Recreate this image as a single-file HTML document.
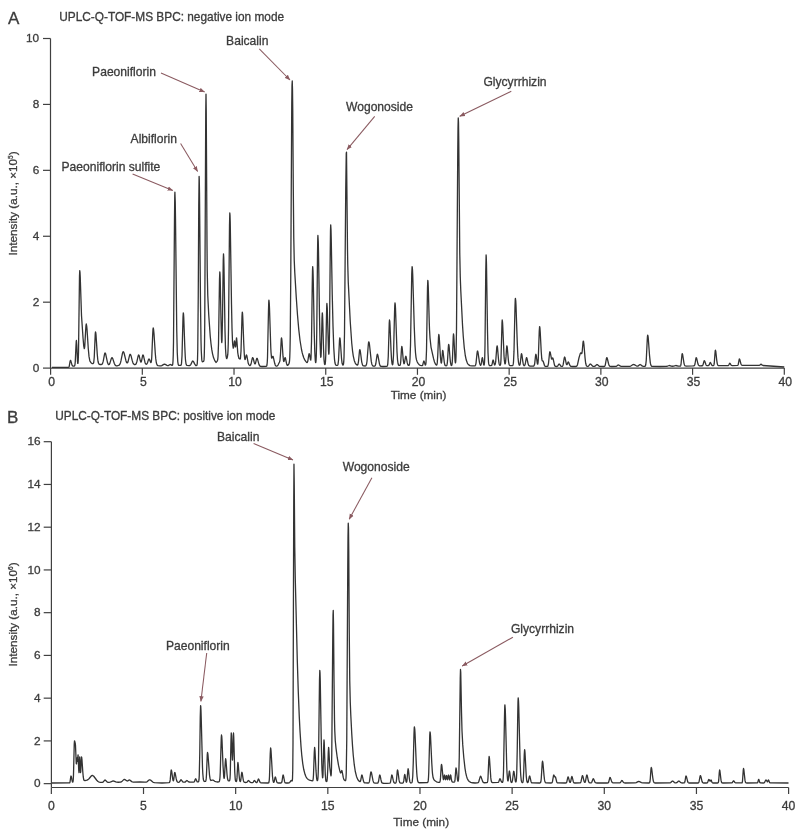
<!DOCTYPE html><html><head><meta charset="utf-8"><title>UPLC-Q-TOF-MS BPC</title>
<style>html,body{margin:0;padding:0;background:#fff;}svg{display:block;filter:blur(0.35px);}text{font-family:'Liberation Sans', Arial, Helvetica, sans-serif;fill:#3c3c3c;stroke:#3c3c3c;stroke-width:0.3px;}</style></head><body>
<svg width="800" height="834" viewBox="0 0 800 834">
<rect width="800" height="834" fill="#fff"/>
<defs><marker id="ah" viewBox="0 0 10 10" refX="9.5" refY="5" markerWidth="5.5" markerHeight="5.5" orient="auto" markerUnits="userSpaceOnUse"><path d="M0 1L10 5L0 9z" fill="#8a5a60"/></marker></defs>
<g stroke="#404040" stroke-width="1.2" fill="none">
<path d="M50.50 38.50V368.10H784.30"/>
<line x1="43" y1="368.10" x2="50.50" y2="368.10"/>
<line x1="43" y1="302.18" x2="50.50" y2="302.18"/>
<line x1="43" y1="236.26" x2="50.50" y2="236.26"/>
<line x1="43" y1="170.34" x2="50.50" y2="170.34"/>
<line x1="43" y1="104.42" x2="50.50" y2="104.42"/>
<line x1="43" y1="38.50" x2="50.50" y2="38.50"/>
<line x1="50.60" y1="368.10" x2="50.60" y2="374.80"/>
<line x1="142.31" y1="368.10" x2="142.31" y2="374.80"/>
<line x1="234.02" y1="368.10" x2="234.02" y2="374.80"/>
<line x1="325.74" y1="368.10" x2="325.74" y2="374.80"/>
<line x1="417.45" y1="368.10" x2="417.45" y2="374.80"/>
<line x1="509.16" y1="368.10" x2="509.16" y2="374.80"/>
<line x1="600.87" y1="368.10" x2="600.87" y2="374.80"/>
<line x1="692.59" y1="368.10" x2="692.59" y2="374.80"/>
<line x1="784.30" y1="368.10" x2="784.30" y2="374.80"/>
</g>
<path d="M52.00 367.30L68.50 367.26L69.00 366.88L69.25 366.17L70.00 361.74L70.40 360.30L70.75 360.61L71.75 364.20L72.00 364.94L72.50 365.81L72.75 366.00L73.25 366.13L74.00 366.06L74.50 365.83L74.75 365.39L75.00 364.27L75.25 361.87L76.00 345.58L76.25 341.30L76.40 340.50L76.75 344.72L77.50 361.41L77.75 363.47L78.00 363.32L78.25 359.94L78.50 352.11L79.50 275.95L79.75 270.57L80.00 272.50L80.25 277.57L81.50 315.52L83.00 337.57L83.75 346.14L84.25 348.49L84.50 348.16L84.75 346.35L85.75 328.80L86.00 325.33L86.30 324.00L86.75 326.45L87.00 329.15L88.25 348.24L89.00 356.41L89.75 360.42L90.25 361.69L91.00 362.68L92.00 363.49L93.00 363.57L93.25 363.47L93.50 363.15L93.75 362.31L94.25 357.28L95.25 333.85L95.50 331.90L95.75 332.68L96.00 334.85L97.25 354.09L97.75 359.49L98.00 361.23L98.50 363.25L98.75 363.75L99.25 364.25L100.25 364.51L101.50 364.51L102.00 364.26L102.50 363.59L103.25 361.15L104.50 354.35L104.75 353.47L105.10 353.00L105.50 353.53L105.75 354.32L107.50 362.54L108.00 363.86L108.50 364.51L109.00 364.56L109.25 364.38L109.75 363.58L111.25 358.76L111.75 357.72L112.00 357.60L112.25 357.73L112.75 358.62L114.25 363.25L114.75 364.40L115.25 365.17L115.75 365.63L116.25 365.82L117.50 365.73L118.75 365.38L119.25 365.05L119.75 364.44L120.50 362.66L121.00 360.70L122.50 353.17L123.00 351.85L123.25 351.70L123.50 351.85L123.75 352.26L124.25 353.74L126.00 360.97L126.50 362.26L127.00 362.90L127.25 362.95L127.50 362.79L128.00 361.84L129.50 355.66L129.75 354.88L130.00 354.41L130.20 354.30L130.50 354.52L131.00 355.71L132.25 360.67L133.00 362.95L133.50 363.85L134.25 364.50L135.00 364.66L135.50 364.49L136.00 364.00L136.25 363.56L137.00 361.19L138.00 356.54L138.25 355.67L138.50 355.14L138.70 355.00L139.00 355.32L139.25 356.03L140.25 360.55L140.75 361.93L141.00 362.06L141.25 361.76L141.50 361.04L142.50 356.11L142.75 355.29L143.00 355.00L143.25 355.22L143.50 355.87L145.00 362.48L145.25 363.17L145.75 364.00L146.00 364.20L146.50 364.23L147.00 363.79L147.50 362.75L148.50 359.66L148.75 359.17L149.00 359.00L149.25 359.12L149.50 359.49L150.50 362.09L150.75 362.54L151.00 362.59L151.25 361.98L151.50 360.34L151.75 357.29L152.75 333.32L153.00 329.10L153.20 328.00L153.50 328.91L154.00 333.85L155.25 353.02L155.75 358.66L156.25 362.22L156.50 363.36L157.00 364.72L157.50 365.34L158.00 365.61L160.00 365.98L161.00 365.85L161.75 365.61L163.75 364.37L164.40 364.20L165.25 364.38L167.00 365.32L167.75 365.56L168.50 365.49L169.75 364.69L170.25 364.50L170.75 364.59L172.00 365.32L172.25 365.34L172.50 365.08L172.75 364.07L173.00 361.31L173.25 354.91L173.50 342.22L174.50 218.35L174.75 196.14L174.90 192.20L175.25 201.82L175.50 219.00L176.75 330.45L177.25 352.36L177.75 361.60L178.25 364.57L178.75 365.29L179.50 365.42L180.75 365.29L181.00 365.11L181.25 364.62L181.50 363.40L182.00 355.93L183.00 317.40L183.30 312.80L183.50 313.78L183.75 317.56L184.75 345.74L185.25 356.55L185.50 359.98L186.00 363.75L186.50 365.08L187.00 365.46L188.75 365.62L189.75 365.50L190.25 365.21L190.75 364.61L192.25 361.46L192.50 361.13L192.80 361.00L193.25 361.27L193.50 361.62L194.75 364.15L195.50 365.26L196.00 365.67L196.75 365.37L197.00 364.93L197.25 363.58L197.50 359.70L197.75 349.98L198.25 295.80L198.75 205.98L199.10 176.40L199.25 178.79L199.50 193.08L200.50 304.26L201.00 340.67L201.25 350.53L201.75 359.49L202.00 361.00L202.25 361.61L202.50 361.79L202.75 361.77L203.50 361.43L203.75 361.13L204.00 359.91L204.25 355.96L204.50 345.45L204.75 322.54L205.75 111.60L206.00 94.12L206.25 111.98L207.00 244.84L207.25 271.16L207.75 294.93L208.75 315.13L210.25 336.35L211.00 343.76L211.75 349.40L212.50 353.61L213.50 357.55L214.75 360.63L216.00 362.46L217.00 361.42L217.50 360.45L217.75 359.33L218.00 357.01L218.50 344.11L219.50 279.72L219.80 271.90L220.00 273.73L220.25 281.20L221.00 319.95L221.50 339.08L221.75 342.56L222.00 340.65L222.50 317.99L223.25 260.05L223.50 253.90L223.75 257.81L224.00 268.39L225.00 330.64L225.50 348.53L226.00 355.98L226.50 358.36L226.75 358.67L227.25 357.55L227.75 354.72L228.00 350.97L228.25 343.52L228.50 330.16L229.50 225.87L229.80 213.00L230.00 214.96L230.25 222.96L231.50 304.33L232.00 328.32L232.50 341.48L232.75 344.96L233.25 348.06L233.50 348.00L233.75 346.71L234.25 342.01L234.50 341.00L234.75 341.82L235.25 345.85L235.50 346.93L235.75 346.25L236.25 340.26L236.50 337.89L236.60 338.00L237.00 342.02L237.75 352.58L238.25 355.75L239.00 358.50L239.75 358.96L240.00 358.98L240.25 358.71L240.50 357.76L241.00 351.22L242.00 316.16L242.30 312.10L242.50 313.14L242.75 316.81L243.75 343.55L244.25 353.74L244.50 356.85L244.75 358.73L245.00 359.53L245.25 359.42L246.25 355.23L246.50 355.00L246.75 355.48L247.00 356.50L248.25 363.29L248.75 364.57L249.50 365.39L250.00 365.58L250.50 365.09L250.75 364.60L251.25 362.95L252.25 358.38L252.50 357.75L252.70 357.60L253.00 357.90L253.25 358.53L254.25 362.50L254.75 363.74L255.00 363.89L255.25 363.68L255.50 363.12L256.50 359.17L256.75 358.52L257.00 358.30L257.25 358.50L257.50 359.05L259.00 364.58L259.75 365.92L260.50 366.34L262.00 366.50L266.00 366.42L266.50 366.23L266.75 365.82L267.00 364.75L267.25 362.29L267.50 357.45L268.50 310.18L268.75 301.71L268.90 300.20L269.25 303.18L269.50 308.58L270.75 347.22L271.00 352.23L271.50 357.50L271.75 358.17L272.00 358.00L272.75 356.33L273.00 356.38L273.25 356.84L274.75 363.57L275.25 365.04L275.75 365.79L276.25 366.09L277.00 366.05L277.50 365.72L278.00 365.01L279.50 362.00L279.75 361.34L280.00 360.02L280.50 353.70L281.25 339.16L281.50 337.80L281.75 338.86L282.00 341.29L283.00 356.19L283.50 360.71L283.75 361.49L284.00 361.34L284.75 358.24L285.10 357.60L285.50 358.40L286.50 363.38L287.00 364.93L287.25 365.27L287.50 365.39L287.75 365.32L288.25 364.82L289.00 363.60L289.25 362.82L289.50 361.19L289.75 357.56L290.00 350.02L290.25 335.94L290.75 278.24L291.75 104.58L292.00 85.20L292.25 81.00L292.50 89.60L292.75 110.23L293.25 184.46L293.75 237.26L294.25 260.48L294.75 272.10L296.25 297.29L297.50 315.05L298.75 329.33L300.00 340.23L301.50 349.50L302.25 352.88L303.00 355.58L303.75 357.73L304.75 359.88L305.75 361.41L306.75 362.44L307.00 362.53L307.25 362.44L307.75 361.33L308.75 355.03L309.00 353.94L309.20 353.70L309.50 354.35L310.50 359.97L310.75 360.02L311.00 357.93L311.50 341.64L312.25 284.86L312.50 270.50L312.70 266.60L313.00 270.68L313.25 279.60L314.25 332.98L314.75 351.20L315.25 360.22L315.50 362.17L315.75 362.63L316.00 361.21L316.25 356.76L316.50 347.44L316.75 331.43L317.50 255.02L317.75 238.44L317.90 235.50L318.25 241.37L318.50 252.01L319.50 315.92L320.00 340.67L320.50 354.54L320.75 357.31L321.00 356.76L321.25 352.01L322.00 318.80L322.30 312.80L322.50 314.44L322.75 320.44L323.50 348.00L324.00 359.60L324.50 363.97L324.75 364.63L325.00 364.64L325.25 363.77L325.50 361.17L325.75 355.41L326.50 315.80L326.75 305.40L326.90 303.50L327.25 307.82L328.50 350.67L328.75 354.21L329.00 353.38L329.25 346.51L329.50 331.87L330.25 251.07L330.50 230.53L330.70 224.90L331.00 229.42L331.25 239.39L332.25 295.05L333.00 325.89L333.75 347.51L334.50 359.36L335.00 363.06L335.50 364.66L336.00 365.21L336.50 365.36L337.25 365.36L337.75 365.03L338.00 364.40L338.50 360.49L339.50 340.22L339.80 337.80L340.00 338.31L340.25 340.30L341.50 358.28L342.00 362.57L342.25 363.78L342.75 364.95L343.00 365.09L343.25 364.88L343.50 364.05L343.75 361.93L344.00 357.33L344.50 333.50L345.75 187.95L346.25 153.39L346.50 152.12L347.50 249.51L347.75 264.31L348.25 281.92L350.25 321.81L351.75 343.24L352.50 350.54L353.25 355.84L354.25 360.45L355.25 363.10L356.00 364.24L357.00 365.07L357.50 365.10L357.75 364.85L358.00 364.25L358.50 361.35L359.50 350.77L359.80 349.70L360.00 349.96L360.25 350.92L360.50 352.48L361.75 362.10L362.50 364.93L363.00 365.64L363.75 365.95L365.25 365.99L365.75 365.81L366.00 365.57L366.50 364.34L367.00 361.26L368.25 345.20L368.50 342.86L368.80 341.80L369.00 342.06L369.25 343.07L369.50 344.76L371.25 361.16L371.75 363.73L372.00 364.56L372.50 365.56L373.00 366.00L374.00 366.23L374.75 366.12L375.25 365.60L375.75 364.06L377.00 355.42L377.25 354.46L377.40 354.30L377.75 354.85L378.00 355.85L379.50 364.13L379.75 364.92L380.25 365.87L381.00 366.36L383.00 366.50L386.50 366.29L387.00 366.19L387.25 365.99L387.50 365.46L387.75 364.19L388.25 356.83L389.25 322.86L389.50 320.00L389.75 321.31L390.00 325.05L391.00 349.89L391.50 358.87L392.00 363.42L392.25 364.43L392.50 364.77L392.75 364.39L393.00 363.00L393.50 355.01L394.50 314.09L394.75 305.91L395.00 302.90L395.25 304.35L395.50 308.54L397.00 351.81L397.50 359.73L398.00 363.52L398.50 364.98L399.00 365.41L399.75 365.45L400.00 365.28L400.25 364.82L400.50 363.68L400.75 361.37L401.50 348.64L401.80 346.40L402.00 346.85L402.25 348.56L403.25 359.96L403.75 363.17L404.00 363.71L404.25 363.58L404.50 362.82L405.50 356.92L405.80 356.30L406.00 356.52L406.25 357.35L407.25 362.91L407.75 364.61L408.00 365.06L408.50 365.44L409.00 365.32L409.25 364.94L409.50 364.09L409.75 362.34L410.00 359.11L410.50 345.23L411.75 273.81L412.10 266.60L412.25 267.09L412.50 270.05L412.75 275.44L414.25 326.86L415.00 345.00L415.50 352.77L416.00 357.31L416.50 359.88L417.25 361.98L418.25 363.64L419.25 364.72L420.25 365.33L421.75 365.68L422.25 365.62L422.75 364.99L423.50 361.95L423.75 361.14L423.90 361.00L424.25 361.58L425.00 364.43L425.25 364.98L425.50 365.09L425.75 364.50L426.00 362.62L426.50 350.58L427.50 287.93L427.80 280.40L428.00 281.61L428.25 286.42L429.25 322.13L429.50 329.23L430.00 337.81L431.00 347.05L433.50 358.38L434.50 361.97L435.50 364.16L436.00 364.79L436.50 365.08L436.75 364.94L437.00 364.34L437.25 362.88L437.75 355.53L438.50 337.23L438.80 334.50L439.00 335.09L439.25 337.34L440.50 357.69L441.00 362.28L441.25 363.10L441.50 362.70L441.75 360.89L442.50 351.21L442.70 350.40L443.00 351.22L444.25 362.12L444.75 364.56L445.00 365.18L445.50 365.71L446.25 365.80L446.75 365.42L447.00 364.74L447.25 363.35L447.50 360.93L448.25 348.41L448.50 345.26L448.70 344.40L449.00 345.51L449.25 347.92L450.00 357.97L450.50 362.72L451.00 364.94L451.25 365.40L451.50 365.56L451.75 365.35L452.00 364.45L452.25 362.23L452.50 357.91L453.25 336.56L453.50 333.90L453.75 335.41L454.00 339.52L455.00 360.09L455.25 362.35L455.50 362.91L455.75 361.35L456.00 356.63L456.50 330.15L457.75 152.03L458.00 127.91L458.25 117.96L458.50 122.37L458.75 140.01L459.75 252.48L460.25 276.42L460.75 289.98L462.50 324.80L463.25 336.19L464.25 347.61L465.25 355.25L466.25 360.02L467.25 362.82L468.00 364.08L468.75 364.87L470.00 365.56L472.00 365.88L474.75 365.87L475.25 365.62L475.50 365.25L476.00 363.33L477.00 353.65L477.25 351.71L477.50 351.00L477.75 351.34L478.00 352.33L479.50 362.56L479.75 363.64L480.25 364.95L480.50 365.24L480.75 365.26L481.00 364.89L481.50 362.41L482.00 358.56L482.30 357.60L482.50 357.93L482.75 359.16L483.50 363.96L483.75 364.82L484.00 365.13L484.25 364.66L484.50 362.54L484.75 356.93L485.00 345.12L485.75 272.33L486.10 255.00L486.25 256.46L486.50 264.98L487.50 330.92L488.00 352.57L488.50 362.01L488.75 363.94L489.00 364.91L489.50 365.56L490.00 365.65L491.25 365.60L491.75 365.19L492.25 363.57L492.75 360.88L493.10 360.00L493.25 360.13L493.50 360.86L494.25 364.16L494.50 364.77L494.75 365.00L495.00 364.83L495.50 362.89L495.75 360.81L496.75 347.61L497.10 345.80L497.25 346.06L497.50 347.57L498.50 359.32L499.00 363.18L499.25 364.23L499.75 365.18L500.00 365.31L500.25 365.22L500.50 364.66L500.75 363.05L501.00 359.35L502.00 322.46L502.20 320.00L502.50 321.88L502.75 326.01L504.00 355.53L504.25 359.15L504.75 363.21L505.00 363.91L505.25 363.76L505.50 362.63L506.00 356.88L506.50 348.77L506.75 346.25L506.90 345.80L507.25 347.19L508.25 358.89L508.50 361.27L509.00 364.19L509.50 365.29L510.00 365.60L512.25 365.68L512.75 365.43L513.00 364.97L513.25 363.90L513.50 361.71L514.00 351.14L515.00 306.22L515.25 299.47L515.40 298.30L515.75 300.84L516.00 305.49L517.25 342.63L517.75 353.78L518.00 357.64L518.50 362.46L519.00 364.62L519.25 365.09L519.50 365.27L519.75 365.11L520.00 364.52L520.25 363.33L521.25 354.45L521.50 353.70L521.75 354.15L522.00 355.38L522.75 361.05L523.25 363.89L523.50 364.74L524.00 365.55L524.25 365.65L524.50 365.58L525.00 364.78L525.50 362.68L526.25 358.36L526.60 357.60L526.75 357.71L527.00 358.36L528.00 363.35L528.25 364.30L528.75 365.44L529.25 365.86L530.00 365.99L533.25 366.09L533.75 366.00L534.00 365.82L534.50 364.53L534.75 363.06L535.50 356.08L535.75 354.57L535.90 354.30L536.25 355.38L537.25 363.16L537.50 364.13L537.75 364.17L538.00 362.93L538.25 359.90L539.25 331.25L539.60 326.60L539.75 326.94L540.00 328.94L540.25 332.48L541.25 351.94L541.75 358.44L542.00 360.10L542.25 360.82L543.00 361.00L543.25 361.48L544.50 365.56L545.00 366.22L545.50 366.42L547.25 366.44L547.75 366.10L548.00 365.62L548.50 363.30L549.50 353.45L549.75 351.96L549.90 351.70L550.25 352.33L551.50 358.78L551.75 359.11L552.00 358.93L552.50 358.00L552.80 358.00L553.25 359.29L554.50 365.07L554.75 365.66L555.25 366.27L556.25 366.49L557.25 366.33L557.75 365.90L558.75 364.23L559.10 364.00L559.50 364.23L560.50 365.71L561.00 366.20L561.75 366.44L562.25 366.37L562.50 366.19L563.00 365.21L563.25 364.21L564.25 357.87L564.60 357.00L565.00 357.68L566.25 363.67L566.50 364.38L566.75 364.72L567.00 364.66L567.25 364.25L568.00 362.28L568.30 362.00L568.75 362.52L569.75 365.20L570.50 366.24L571.00 366.44L572.00 366.50L575.50 366.49L576.50 366.30L577.00 365.82L577.50 364.68L579.00 357.76L580.25 353.66L580.75 352.81L581.00 352.88L581.50 353.54L581.75 353.49L582.00 352.72L582.25 351.01L583.00 342.54L583.25 341.08L583.40 341.10L583.50 341.44L584.00 345.19L585.00 357.39L585.50 361.99L585.75 363.54L586.25 365.39L586.50 365.87L587.00 366.31L587.75 366.41L588.50 366.09L590.00 364.19L590.40 364.00L591.00 364.32L592.50 366.03L593.50 366.43L594.25 366.45L595.00 366.23L595.50 365.85L596.50 364.74L597.00 364.50L597.50 364.68L599.00 366.06L599.75 366.39L603.50 366.50L604.50 366.36L605.00 365.79L605.25 365.14L606.50 358.20L606.80 357.60L607.00 357.73L607.25 358.26L608.50 363.52L609.00 365.07L609.50 365.93L610.25 366.40L611.75 366.49L616.00 366.38L616.75 366.08L618.00 365.11L618.40 365.00L619.00 365.18L620.50 366.16L621.25 366.36L629.25 366.34L630.75 366.02L632.75 364.72L633.50 364.50L634.25 364.66L636.25 365.81L637.25 366.11L637.75 366.11L638.25 365.94L639.50 364.80L640.10 364.50L640.75 364.77L641.75 365.67L642.50 366.12L643.75 366.33L645.00 366.24L645.50 365.64L645.75 364.76L646.25 360.33L647.25 339.76L647.50 336.16L647.70 335.20L648.00 336.07L648.25 338.02L649.50 355.07L650.25 362.31L650.50 363.71L651.00 365.37L651.50 366.07L652.00 366.32L660.00 366.50L666.25 366.38L667.25 366.25L669.20 365.50L669.75 365.58L671.25 366.13L672.25 366.26L673.75 366.17L675.80 365.50L678.25 366.11L680.25 366.08L680.50 365.92L680.75 365.46L681.00 364.44L682.00 354.28L682.20 353.60L682.50 354.11L682.75 355.24L684.00 363.32L684.50 365.01L684.75 365.47L685.25 365.90L686.25 366.03L692.75 365.93L693.75 365.89L694.25 365.73L694.75 364.94L695.00 364.01L695.75 359.23L696.00 358.03L696.20 357.70L696.50 358.03L696.75 358.77L698.00 364.04L698.50 365.13L699.00 365.61L699.50 365.76L700.50 365.79L702.00 365.76L702.50 365.59L703.00 364.87L704.00 361.15L704.30 360.70L704.50 360.82L704.75 361.27L706.00 364.83L706.25 365.21L706.75 365.60L708.00 365.72L708.75 365.45L709.25 364.68L710.00 362.78L710.30 362.50L710.75 362.96L711.50 364.65L712.00 365.35L712.50 365.62L713.25 365.66L713.75 365.33L714.00 364.66L714.25 363.20L715.00 353.21L715.25 350.58L715.40 350.10L715.75 351.18L716.75 360.35L717.25 363.59L717.75 365.06L718.00 365.36L718.50 365.59L728.00 365.54L728.50 365.34L728.75 365.05L729.50 363.48L729.80 363.20L730.25 363.65L731.00 365.02L731.50 365.42L732.50 365.53L737.50 365.44L738.00 365.06L738.25 364.45L739.00 360.29L739.25 359.20L739.40 359.00L739.75 359.45L740.75 363.26L741.25 364.60L741.75 365.20L742.25 365.39L759.25 365.29L759.75 365.17L760.75 364.28L761.00 364.20L761.25 364.29L762.25 365.23L763.00 365.49L784.25 367.00" fill="none" stroke="#333" stroke-width="1.3" stroke-linejoin="round"/>
<text x="7.9" y="24" font-size="17">A</text>
<text x="59.2" y="20.8" font-size="11.85">UPLC-Q-TOF-MS BPC: negative ion mode</text>
<text x="39.2" y="371.80" font-size="11.8" text-anchor="end">0</text>
<text x="39.2" y="305.88" font-size="11.8" text-anchor="end">2</text>
<text x="39.2" y="239.96" font-size="11.8" text-anchor="end">4</text>
<text x="39.2" y="174.04" font-size="11.8" text-anchor="end">6</text>
<text x="39.2" y="108.12" font-size="11.8" text-anchor="end">8</text>
<text x="39.2" y="42.20" font-size="11.8" text-anchor="end">10</text>
<text x="51.60" y="386" font-size="12.2" text-anchor="middle">0</text>
<text x="143.31" y="386" font-size="12.2" text-anchor="middle">5</text>
<text x="235.02" y="386" font-size="12.2" text-anchor="middle">10</text>
<text x="326.74" y="386" font-size="12.2" text-anchor="middle">15</text>
<text x="418.45" y="386" font-size="12.2" text-anchor="middle">20</text>
<text x="510.16" y="386" font-size="12.2" text-anchor="middle">25</text>
<text x="601.87" y="386" font-size="12.2" text-anchor="middle">30</text>
<text x="693.59" y="386" font-size="12.2" text-anchor="middle">35</text>
<text x="785.30" y="386" font-size="12.2" text-anchor="middle">40</text>
<text x="418.6" y="399" font-size="11.75" text-anchor="middle">Time (min)</text>
<text transform="translate(17.0 203.4) rotate(-90)" font-size="11.7" text-anchor="middle">Intensity (a.u., ×10<tspan font-size="6.5" dy="-4.5">5</tspan><tspan dy="4.5">)</tspan></text>
<text x="226.1" y="44.5" font-size="12.1">Baicalin</text>
<text x="92.1" y="75.6" font-size="12.1">Paeoniflorin</text>
<text x="130.6" y="143.4" font-size="12.1">Albiflorin</text>
<text x="61.5" y="170.6" font-size="12.1">Paeoniflorin sulfite</text>
<text x="346" y="111.4" font-size="12.1">Wogonoside</text>
<text x="483.4" y="86" font-size="12.1">Glycyrrhizin</text>
<g stroke="#404040" stroke-width="1.2" fill="none">
<path d="M51.40 441.70V787.50"/>
<path d="M51.40 787.5H788.60"/>
<line x1="43.7" y1="783.65" x2="51.40" y2="783.65"/>
<line x1="43.7" y1="740.91" x2="51.40" y2="740.91"/>
<line x1="43.7" y1="698.16" x2="51.40" y2="698.16"/>
<line x1="43.7" y1="655.42" x2="51.40" y2="655.42"/>
<line x1="43.7" y1="612.67" x2="51.40" y2="612.67"/>
<line x1="43.7" y1="569.93" x2="51.40" y2="569.93"/>
<line x1="43.7" y1="527.19" x2="51.40" y2="527.19"/>
<line x1="43.7" y1="484.44" x2="51.40" y2="484.44"/>
<line x1="43.7" y1="441.70" x2="51.40" y2="441.70"/>
<line x1="51.35" y1="787.50" x2="51.35" y2="794.00"/>
<line x1="143.51" y1="787.50" x2="143.51" y2="794.00"/>
<line x1="235.66" y1="787.50" x2="235.66" y2="794.00"/>
<line x1="327.82" y1="787.50" x2="327.82" y2="794.00"/>
<line x1="419.98" y1="787.50" x2="419.98" y2="794.00"/>
<line x1="512.13" y1="787.50" x2="512.13" y2="794.00"/>
<line x1="604.29" y1="787.50" x2="604.29" y2="794.00"/>
<line x1="696.44" y1="787.50" x2="696.44" y2="794.00"/>
<line x1="788.60" y1="787.50" x2="788.60" y2="794.00"/>
</g>
<path d="M52.00 783.00L69.50 782.92L69.75 782.70L70.00 782.07L70.75 776.84L71.00 776.00L71.25 776.40L72.25 781.32L72.50 781.94L72.75 782.12L73.00 781.64L73.25 779.65L73.50 774.60L74.25 743.79L74.50 740.80L74.75 741.33L75.25 743.40L75.50 745.67L76.25 763.51L76.50 763.94L77.00 758.00L77.50 761.29L78.00 754.99L78.10 755.00L78.75 770.78L79.00 772.56L79.70 757.00L80.50 772.70L80.75 771.63L81.25 759.72L81.50 756.90L81.75 757.75L82.00 760.17L82.75 771.35L83.25 776.94L83.75 779.62L84.00 780.19L84.50 780.58L85.00 780.57L87.00 780.13L88.00 779.63L89.00 778.72L91.25 776.01L91.75 775.64L92.25 775.49L93.00 775.67L93.75 776.26L96.75 780.25L98.00 781.52L99.25 782.10L100.75 782.37L102.25 782.37L103.00 782.11L103.50 781.65L104.50 780.29L105.00 780.00L105.50 780.21L107.00 781.86L108.00 782.30L109.00 782.33L110.00 782.20L110.75 781.96L112.50 781.11L113.10 781.00L114.00 781.16L115.75 781.88L116.75 782.14L118.25 782.24L120.25 782.17L121.00 782.01L121.75 781.63L123.75 779.66L124.40 779.40L125.00 779.55L126.50 780.72L127.25 781.02L127.75 780.91L129.00 780.08L129.40 780.00L129.75 780.08L131.75 781.61L132.50 781.92L133.25 782.04L140.00 782.00L144.75 782.20L146.00 782.14L147.00 781.79L149.00 780.00L149.70 779.75L150.50 780.06L152.75 782.02L153.50 782.38L154.50 782.60L162.00 783.00L169.00 782.55L169.50 782.35L169.75 781.97L170.00 781.08L170.25 779.38L171.00 771.04L171.25 770.00L171.50 770.45L171.75 771.70L172.75 779.11L173.00 780.26L173.25 780.83L173.50 780.68L173.75 779.65L174.50 773.31L174.75 772.50L175.00 772.79L175.25 773.59L176.25 778.92L176.75 780.84L177.25 781.83L177.75 782.21L178.50 782.31L179.25 782.10L179.75 781.57L180.75 779.88L181.00 779.75L181.50 780.09L182.75 781.85L183.50 782.19L184.50 782.21L185.25 782.02L186.50 780.71L186.90 780.50L187.25 780.61L188.25 781.59L189.00 782.02L190.00 782.12L193.75 782.03L194.25 781.79L194.50 781.44L195.25 779.27L195.60 778.75L196.00 779.25L197.00 781.58L197.50 781.89L198.25 781.88L198.50 781.74L198.75 781.23L199.00 779.70L199.25 775.80L199.75 753.90L200.25 717.54L200.60 705.60L200.75 706.39L201.00 711.06L201.25 719.19L202.50 767.53L202.75 772.83L203.25 778.74L203.50 780.09L204.00 781.22L204.50 781.47L205.00 781.49L205.50 781.36L205.75 781.04L206.00 780.17L206.25 778.13L206.50 774.21L207.25 754.91L207.50 752.50L207.75 753.16L208.00 755.07L209.50 774.85L210.00 778.43L210.50 780.06L211.00 780.51L212.25 780.04L213.00 780.06L214.75 781.29L217.00 782.00L219.00 781.75L219.25 781.55L219.50 781.00L219.75 779.72L220.00 777.06L220.25 772.26L221.25 737.90L221.50 735.00L221.75 736.32L222.00 740.09L223.00 765.19L223.75 776.85L224.00 778.25L224.25 778.24L224.50 776.48L225.25 762.25L225.60 758.75L225.75 759.04L226.00 760.76L227.00 774.09L227.50 778.46L227.75 779.64L228.25 780.70L228.75 780.94L229.25 780.92L229.50 780.77L229.75 780.24L230.00 778.57L230.25 774.24L231.00 739.60L231.25 733.00L231.50 734.99L232.00 751.80L232.40 760.00L232.50 759.89L232.75 755.24L233.25 736.16L233.50 733.00L233.75 737.20L234.75 772.12L235.25 779.36L235.50 780.65L235.75 781.22L236.00 781.46L236.25 781.50L236.50 781.26L236.75 780.30L237.00 777.89L237.75 763.34L237.90 762.50L238.25 764.27L239.00 774.30L239.50 779.25L239.75 780.56L240.00 781.26L240.25 781.50L240.50 781.26L240.75 780.42L241.50 774.18L241.75 772.54L241.90 772.25L242.25 773.17L243.00 778.35L243.50 780.91L244.00 781.99L244.50 782.31L246.00 782.48L246.75 782.33L247.25 781.92L248.00 780.85L248.50 780.50L249.00 780.80L250.00 782.06L250.50 782.42L251.25 782.61L252.50 782.62L253.00 782.38L253.25 782.11L254.00 780.82L254.40 780.50L254.75 780.71L256.00 782.45L256.50 782.64L256.75 782.58L257.25 782.01L258.25 779.23L258.50 779.00L258.75 779.19L259.00 779.68L260.00 782.19L260.25 782.51L260.75 782.81L268.00 783.00L268.50 782.92L268.75 782.70L269.00 782.00L269.25 780.22L269.50 776.48L270.25 753.48L270.60 748.00L270.75 748.37L271.00 750.52L271.25 754.26L272.50 776.51L273.00 780.62L273.50 782.22L273.75 782.40L274.00 782.16L274.25 781.43L275.00 777.50L275.25 777.00L275.50 777.28L275.75 778.05L276.75 781.94L277.25 782.73L277.75 782.95L278.50 783.00L281.00 782.98L281.50 782.77L281.75 782.36L282.00 781.51L282.75 776.25L283.10 775.00L283.25 775.14L283.50 775.93L284.50 781.24L284.75 782.02L285.25 782.77L286.25 783.00L288.00 783.00L289.00 782.87L289.75 782.46L291.00 780.63L291.25 780.50L291.50 780.56L292.00 780.97L292.25 780.83L292.50 778.77L292.75 769.88L293.00 743.18L293.75 498.49L293.97 464.14L294.25 484.84L294.75 546.78L295.25 577.60L297.25 658.95L298.25 690.90L299.25 716.15L300.00 731.07L301.00 746.40L301.75 755.05L302.75 763.60L303.75 769.53L305.00 774.35L305.75 776.26L306.50 777.64L307.25 778.63L308.25 779.51L309.50 780.14L312.25 780.85L312.75 780.65L313.00 780.01L313.25 778.32L313.50 774.76L314.25 752.73L314.60 747.50L314.75 747.96L315.00 750.56L316.00 770.66L316.50 777.27L316.75 779.07L317.00 780.12L317.25 780.62L317.50 780.57L317.75 779.70L318.00 777.23L318.25 771.77L318.50 761.58L319.50 680.22L319.80 670.50L320.00 672.56L320.25 680.52L321.25 739.91L321.75 762.70L322.00 769.91L322.50 777.38L322.75 777.81L323.00 775.00L323.75 744.83L324.00 740.00L324.25 742.67L325.25 773.60L325.75 780.01L326.00 781.06L326.25 781.48L326.50 781.57L326.75 781.41L327.00 780.75L327.25 779.01L327.75 769.21L328.25 752.89L328.60 747.50L328.75 748.22L329.00 752.34L329.75 766.98L330.75 774.84L331.00 775.94L331.25 774.25L331.50 767.85L331.75 754.73L332.75 638.46L333.02 615.12L333.25 610.50L333.50 623.66L334.00 679.76L334.50 719.72L334.75 730.19L335.25 740.56L336.00 748.11L337.25 757.71L338.50 765.17L339.75 770.67L340.25 772.28L340.50 772.81L340.75 772.97L341.00 772.64L341.50 770.96L341.75 770.48L341.90 770.60L342.25 771.81L343.25 777.39L343.75 779.06L344.25 779.92L345.00 780.61L345.25 780.72L345.50 780.65L345.75 780.02L346.00 777.96L346.25 772.70L346.75 740.19L347.75 567.65L348.00 536.48L348.25 523.20L348.50 528.02L348.75 550.73L349.25 631.54L349.75 680.83L350.25 701.85L350.75 714.20L351.75 733.78L352.50 745.66L353.25 755.20L354.25 764.70L355.25 771.24L356.50 776.42L357.75 779.40L358.50 780.52L359.50 781.48L360.00 781.65L360.25 781.51L360.50 781.08L361.00 779.00L361.50 776.04L361.75 775.14L361.90 775.00L362.25 775.60L363.50 781.16L363.75 781.85L364.25 782.60L364.75 782.87L365.50 782.96L368.00 783.02L368.75 782.83L369.25 782.03L369.50 781.13L370.50 773.88L370.75 772.43L371.00 771.90L371.25 772.16L371.50 772.92L373.00 780.64L373.50 782.06L373.75 782.48L374.25 782.92L375.00 783.11L377.00 783.16L377.50 783.12L378.00 782.82L378.50 781.52L379.50 775.50L379.75 775.00L380.00 775.30L380.25 776.13L381.00 779.96L381.50 781.88L381.75 782.46L382.25 783.03L382.75 783.20L383.50 783.25L387.00 783.30L389.75 783.18L390.25 782.74L390.50 782.13L391.50 776.24L391.75 775.19L391.90 775.00L392.25 775.57L393.25 780.40L393.75 782.10L394.00 782.58L394.50 783.03L395.50 783.11L395.75 782.97L396.00 782.58L396.25 781.65L396.50 779.87L397.25 771.10L397.50 770.00L397.75 770.47L398.00 771.79L399.00 779.63L399.25 780.95L399.75 782.44L400.25 782.94L400.75 783.05L402.75 783.01L403.25 782.66L403.75 780.88L404.50 775.12L404.75 774.40L405.00 774.94L406.00 781.30L406.25 782.06L406.50 782.24L406.75 781.72L407.00 780.29L407.75 770.98L408.10 768.75L408.25 768.99L408.50 770.39L409.25 777.82L409.75 781.20L410.00 782.06L410.50 782.76L411.25 782.88L411.75 782.67L412.00 782.28L412.25 781.38L412.75 776.22L413.25 762.97L414.00 733.48L414.25 727.88L414.40 726.90L414.75 729.00L415.00 732.84L416.25 763.62L416.75 772.86L417.00 776.05L417.50 780.03L417.75 781.13L418.25 782.25L418.75 782.64L419.50 782.76L427.00 782.65L427.50 782.57L427.75 782.36L428.00 781.79L428.25 780.42L428.50 777.55L428.75 772.37L429.75 735.14L430.00 731.90L430.25 732.86L430.50 735.88L431.75 762.48L432.25 770.76L432.50 773.61L433.00 777.11L433.25 778.12L433.75 779.34L434.25 780.06L435.00 780.82L436.50 781.79L437.50 782.13L438.50 782.29L439.25 782.33L439.75 782.10L440.00 781.57L440.25 780.31L440.50 777.89L441.25 765.90L441.50 764.40L441.75 765.05L442.00 766.85L443.00 777.48L443.25 779.05L443.50 779.63L443.75 779.06L444.25 775.73L444.50 775.00L444.75 775.68L445.25 778.88L445.50 779.75L445.75 779.38L446.25 776.24L446.50 775.50L446.75 776.10L447.25 779.01L447.50 779.73L447.75 779.22L448.25 775.80L448.50 775.00L448.75 775.64L449.50 779.91L449.75 779.77L450.25 776.49L450.60 775.00L450.75 775.24L451.00 776.51L451.50 779.97L452.00 781.67L452.50 781.99L454.00 782.04L454.50 781.91L454.75 781.46L455.00 780.18L455.75 769.65L456.00 768.00L456.25 768.68L456.50 770.50L457.50 779.69L457.75 780.79L458.00 781.27L458.25 781.01L458.50 779.60L458.75 776.11L459.25 757.37L460.25 677.98L460.50 669.44L460.75 672.65L461.50 712.07L462.00 730.68L462.75 744.90L463.75 757.25L465.00 768.33L465.75 772.89L466.50 776.17L467.25 778.46L468.25 780.42L469.25 781.55L470.75 782.38L472.50 782.77L475.00 782.98L477.25 782.92L478.00 782.71L478.50 782.19L478.75 781.72L480.00 777.35L480.25 776.65L480.60 776.25L481.00 776.63L482.50 781.14L483.25 782.35L483.75 782.65L484.50 782.76L486.75 782.72L487.25 782.50L487.50 781.97L487.75 780.63L488.00 777.83L488.75 760.60L489.10 756.50L489.25 756.84L489.50 758.85L490.75 777.40L491.00 779.53L491.50 781.75L492.00 782.43L492.50 782.57L498.00 782.45L498.50 782.14L498.75 781.75L499.75 778.98L500.00 778.75L500.25 778.93L500.50 779.42L501.25 781.42L501.75 782.20L502.25 782.43L502.50 782.32L502.75 781.87L503.00 780.62L503.25 777.74L503.50 772.06L504.50 716.51L504.75 706.56L504.90 704.80L505.25 709.13L505.50 716.84L506.75 766.88L507.00 772.70L507.50 779.24L507.75 780.62L508.00 781.00L508.25 780.38L509.00 773.29L509.25 771.35L509.40 771.00L509.75 772.42L510.75 780.96L511.25 782.35L511.50 782.51L511.75 782.47L512.00 782.18L512.50 780.37L513.50 771.96L513.75 771.25L514.00 771.79L514.25 773.27L515.25 780.71L515.50 781.61L515.75 782.04L516.00 781.91L516.25 780.91L516.50 778.28L516.75 772.82L517.25 748.97L517.75 713.74L518.00 701.29L518.20 697.90L518.50 700.74L518.75 707.08L520.00 757.87L520.50 771.32L520.75 775.55L521.25 780.30L521.75 782.10L522.25 782.64L522.50 782.68L522.75 782.52L523.00 781.88L523.25 780.19L523.75 770.66L524.25 754.80L524.60 749.60L524.75 750.04L525.00 752.61L526.25 776.22L526.75 780.72L527.00 781.78L527.25 782.35L527.50 782.59L527.75 782.60L528.00 782.36L528.25 781.82L529.25 776.81L529.60 776.00L529.75 776.12L530.00 776.81L531.00 781.42L531.25 782.10L531.75 782.76L532.75 782.97L539.50 783.00L540.25 782.88L540.50 782.63L540.75 782.04L541.00 780.81L541.25 778.58L542.25 762.59L542.50 761.25L542.75 761.88L543.00 763.65L544.00 775.39L544.50 779.64L544.75 780.95L545.25 782.36L545.75 782.84L546.25 782.97L551.25 782.99L551.75 782.87L552.00 782.65L552.50 781.39L553.50 775.54L553.75 775.00L554.00 775.22L554.75 776.93L555.25 776.79L555.50 777.00L556.75 781.97L557.00 782.50L557.50 782.92L565.25 783.00L566.25 782.81L566.75 782.05L567.75 777.62L568.10 776.90L568.50 777.61L569.50 781.64L570.00 782.46L570.25 782.42L570.75 781.29L571.50 777.48L571.75 776.65L571.90 776.50L572.25 777.09L573.25 781.41L573.50 782.10L574.00 782.78L575.00 783.00L580.00 782.94L580.50 782.67L581.00 781.72L582.00 776.91L582.25 775.95L582.50 775.60L582.75 775.87L583.00 776.62L584.00 781.03L584.25 781.75L584.75 782.41L585.00 782.34L585.25 781.96L585.50 781.23L586.50 775.94L586.75 775.14L586.90 775.00L587.25 775.56L588.25 780.27L588.75 781.94L589.25 782.69L590.00 782.97L591.00 782.93L591.50 782.66L591.75 782.35L593.00 779.04L593.30 778.75L593.75 779.23L595.00 782.23L595.75 782.88L597.25 783.00L607.25 783.00L608.00 782.91L608.50 782.45L608.75 781.88L609.75 777.84L610.00 777.50L610.25 777.66L610.50 778.11L611.50 781.08L612.00 782.15L612.50 782.70L613.25 782.96L619.75 782.93L620.50 782.46L621.50 780.79L621.90 780.50L622.25 780.67L623.25 782.15L623.75 782.67L624.75 782.98L635.00 782.93L636.25 782.63L638.00 781.68L638.75 781.50L639.50 781.64L641.50 782.58L642.75 782.90L649.00 782.99L649.50 782.78L649.75 782.32L650.00 781.23L650.25 779.14L651.00 768.79L651.25 767.50L651.50 767.95L651.75 769.21L652.75 777.58L653.25 780.60L653.50 781.54L654.00 782.55L654.50 782.89L655.00 782.98L669.75 782.95L670.75 782.57L672.00 781.24L672.50 781.00L673.00 781.18L674.50 782.56L675.25 782.88L676.00 782.93L676.75 782.73L677.25 782.35L678.25 781.23L678.75 781.00L679.25 781.18L680.50 782.37L681.25 782.81L682.25 782.98L684.00 782.97L684.50 782.69L684.75 782.20L685.00 781.25L685.75 776.58L686.00 776.00L686.25 776.25L686.50 776.96L687.75 781.85L688.00 782.34L688.50 782.83L689.50 782.99L698.00 782.98L698.50 782.81L699.00 782.00L700.00 776.71L700.25 775.77L700.40 775.60L700.75 776.12L701.00 777.02L702.00 781.37L702.50 782.45L703.00 782.86L703.75 782.99L706.25 783.00L707.25 782.78L707.75 782.07L708.50 779.94L708.90 779.40L709.25 779.72L710.00 781.20L710.25 781.18L710.75 780.20L711.00 780.00L711.25 780.33L712.00 782.36L712.50 782.90L713.25 783.00L717.75 782.99L718.00 782.92L718.25 782.66L718.50 781.84L718.75 779.94L719.25 772.82L719.60 770.00L719.75 770.22L720.00 771.51L721.00 780.13L721.50 782.20L722.00 782.85L723.00 783.00L731.75 782.93L732.25 782.66L733.25 781.06L733.60 780.80L734.00 781.06L735.00 782.52L735.75 782.94L741.75 782.97L742.00 782.84L742.25 782.36L742.50 781.04L743.25 770.20L743.50 768.50L743.75 769.18L744.00 771.04L745.00 780.44L745.50 782.34L746.00 782.88L747.00 783.00L757.25 782.95L757.50 782.80L757.75 782.41L758.50 779.68L758.70 779.40L759.00 779.86L759.75 782.32L760.00 782.72L760.50 782.97L763.25 782.99L764.00 782.87L764.50 782.48L765.50 780.53L765.75 780.14L766.00 780.00L766.25 780.11L767.25 781.68L767.50 781.81L767.75 781.56L768.25 780.27L768.50 780.00L768.75 780.30L769.50 782.35L769.75 782.72L770.25 782.97L788.50 783.00" fill="none" stroke="#333" stroke-width="1.3" stroke-linejoin="round"/>
<text x="7.0" y="423" font-size="17">B</text>
<text x="55.2" y="420.1" font-size="11.85">UPLC-Q-TOF-MS BPC: positive ion mode</text>
<text x="40.5" y="787.35" font-size="11.8" text-anchor="end">0</text>
<text x="40.5" y="744.61" font-size="11.8" text-anchor="end">2</text>
<text x="40.5" y="701.86" font-size="11.8" text-anchor="end">4</text>
<text x="40.5" y="659.12" font-size="11.8" text-anchor="end">6</text>
<text x="40.5" y="616.38" font-size="11.8" text-anchor="end">8</text>
<text x="40.5" y="573.63" font-size="11.8" text-anchor="end">10</text>
<text x="40.5" y="530.89" font-size="11.8" text-anchor="end">12</text>
<text x="40.5" y="488.14" font-size="11.8" text-anchor="end">14</text>
<text x="40.5" y="445.40" font-size="11.8" text-anchor="end">16</text>
<text x="51.35" y="809.9" font-size="12.2" text-anchor="middle">0</text>
<text x="143.51" y="809.9" font-size="12.2" text-anchor="middle">5</text>
<text x="235.66" y="809.9" font-size="12.2" text-anchor="middle">10</text>
<text x="327.82" y="809.9" font-size="12.2" text-anchor="middle">15</text>
<text x="419.98" y="809.9" font-size="12.2" text-anchor="middle">20</text>
<text x="512.13" y="809.9" font-size="12.2" text-anchor="middle">25</text>
<text x="604.29" y="809.9" font-size="12.2" text-anchor="middle">30</text>
<text x="696.44" y="809.9" font-size="12.2" text-anchor="middle">35</text>
<text x="788.60" y="809.9" font-size="12.2" text-anchor="middle">40</text>
<text x="421.2" y="825.5" font-size="11.75" text-anchor="middle">Time (min)</text>
<text transform="translate(17.1 614.4) rotate(-90)" font-size="11.7" text-anchor="middle">Intensity (a.u., ×10<tspan font-size="6.5" dy="-4.5">6</tspan><tspan dy="4.5">)</tspan></text>
<text x="217" y="440.6" font-size="12.1">Baicalin</text>
<text x="342.7" y="470.9" font-size="12.1">Wogonoside</text>
<text x="165.9" y="649.6" font-size="12.1">Paeoniflorin</text>
<text x="510.9" y="632.5" font-size="12.1">Glycyrrhizin</text>
<g stroke="#8a5a60" stroke-width="1.05" fill="none">
<line x1="259.30" y1="48.80" x2="290.00" y2="80.00" marker-end="url(#ah)"/>
<line x1="161.00" y1="73.00" x2="204.60" y2="92.00" marker-end="url(#ah)"/>
<line x1="180.60" y1="143.40" x2="197.60" y2="171.60" marker-end="url(#ah)"/>
<line x1="132.60" y1="174.00" x2="172.80" y2="190.40" marker-end="url(#ah)"/>
<line x1="374.70" y1="116.30" x2="347.00" y2="149.60" marker-end="url(#ah)"/>
<line x1="511.30" y1="91.30" x2="459.70" y2="116.30" marker-end="url(#ah)"/>
<line x1="253.60" y1="443.40" x2="293.00" y2="460.00" marker-end="url(#ah)"/>
<line x1="371.90" y1="477.80" x2="349.20" y2="519.20" marker-end="url(#ah)"/>
<line x1="206.70" y1="653.00" x2="200.90" y2="701.40" marker-end="url(#ah)"/>
<line x1="512.90" y1="637.20" x2="462.20" y2="666.00" marker-end="url(#ah)"/>
</g>
</svg></body></html>
